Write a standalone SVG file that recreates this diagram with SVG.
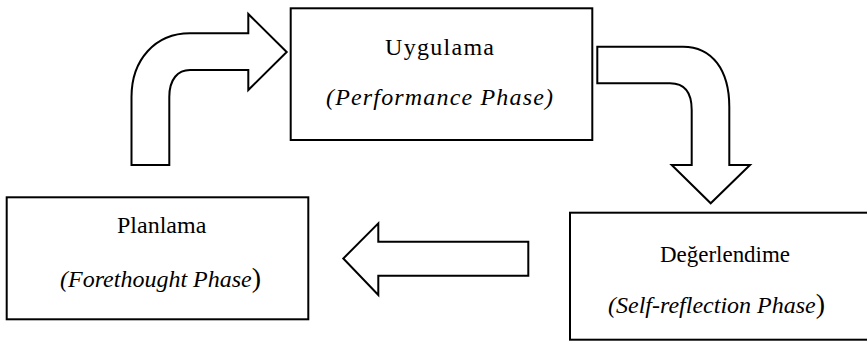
<svg xmlns="http://www.w3.org/2000/svg" width="867" height="342" viewBox="0 0 867 342">
  <style>
    .box { fill: #ffffff; stroke: #000000; stroke-width: 2; }
    .arrow { fill: #ffffff; stroke: #000000; stroke-width: 2; stroke-linejoin: miter; }
    .title { font-family: "Liberation Serif", "Times New Roman", serif; font-size: 24px; fill: #000000; }
    .sub { font-family: "Liberation Serif", "Times New Roman", serif; font-size: 24px; font-style: italic; fill: #000000; }
    .paren { font-style: normal; font-size: 28px; }
  </style>
  <rect width="867" height="342" fill="#ffffff"/>

  <!-- block arrows between the phases -->
  <g id="connectors">
    <!-- planning -> performance: bent arrow up and right -->
    <path class="arrow" d="M 131.5 165 L 131.5 97 C 131.5 60 155 33.3 190 33.3 L 248.3 33.3 L 248.3 14 L 286.7 52 L 248.3 90 L 248.3 70 L 190 70 C 178 70 169.3 79 169.3 97 L 169.3 165 Z"/>
    <!-- performance -> self-reflection: bent arrow right and down -->
    <path class="arrow" d="M 597.3 46.7 L 683 46.7 C 712 46.7 729.3 70 729.3 107 L 729.3 165 L 750 165 L 710.7 203.3 L 671.7 165 L 691.7 165 L 691.7 110 C 691.7 92 684 83.3 670 83.3 L 597.3 83.3 Z"/>
    <!-- self-reflection -> planning: straight arrow left -->
    <path class="arrow" d="M 528.3 241.7 L 378.3 241.7 L 378.3 223.3 L 343.3 258.5 L 378.3 295 L 378.3 275.7 L 528.3 275.7 Z"/>
  </g>

  <g id="performance">
    <rect class="box" x="290.7" y="8.3" width="301.6" height="131.7"/>
    <text class="title" x="385" y="55" textLength="109" lengthAdjust="spacing">Uygulama</text>
    <text class="sub" x="326" y="105" textLength="227" lengthAdjust="spacing">(Performance Phase)</text>
  </g>

  <g id="forethought">
    <rect class="box" x="6.7" y="197.3" width="301.6" height="122"/>
    <text class="title" x="117" y="232.7">Planlama</text>
    <text class="sub" x="60" y="286.7">(Forethought Phase<tspan class="paren">)</tspan></text>
  </g>

  <g id="self-reflection">
    <rect class="box" x="570" y="212.7" width="305" height="127"/>
    <text class="title" x="660" y="261.7" textLength="130" lengthAdjust="spacingAndGlyphs">Değerlendime</text>
    <text class="sub" x="608" y="313.3">(Self-reflection Phase<tspan class="paren">)</tspan></text>
  </g>
</svg>
